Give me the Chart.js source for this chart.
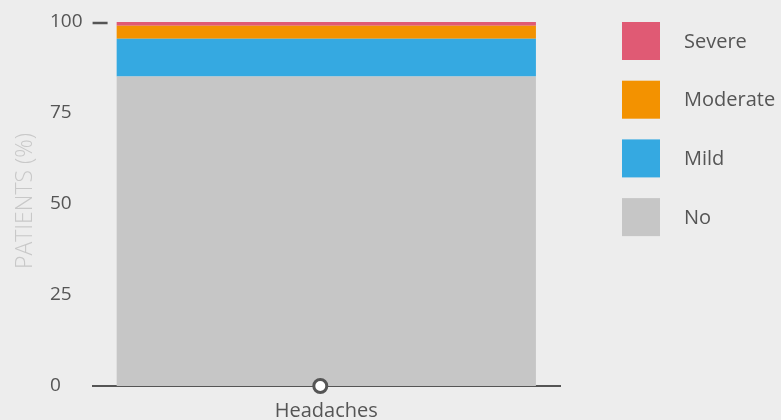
<!DOCTYPE html>
<html>
<head>
<meta charset="utf-8">
<script src="https://cdn.jsdelivr.net/npm/chart.js@4"></script>
<style>
  html, body { margin: 0; padding: 0; background: #ededed; }
  #wrap { width: 781px; height: 420px; position: relative; }
</style>
</head>
<body>
<div id="wrap"><canvas id="c" width="781" height="420"></canvas></div>
<script>
const categories = ['Headaches'];
const seriesNames = ['No', 'Mild', 'Moderate', 'Severe'];
const noValues = [85.0];
const mildValues = [10.4];
const moderateValues = [3.6];
const severeValues = [1.0];
const yTicks = [0, 25, 50, 75, 100];
const yTitle = 'PATIENTS (%)';
const colors = ['#c6c6c6', '#35a9e1', '#f39200', '#e05a74'];

const FONT = '"Open Sans", sans-serif';
const TEXT = '#555555';

const decorPlugin = {
  id: 'decor',
  afterDraw(chart) {
    const ctx = chart.ctx;
    const xs = chart.scales.x, ys = chart.scales.y, ca = chart.chartArea;
    ctx.save();
    // y axis title
    ctx.save();
    ctx.translate(25, (ys.top + ys.bottom) / 2 - 3);
    ctx.rotate(-Math.PI / 2);
    ctx.font = '300 23px ' + FONT;
    ctx.fillStyle = '#c8c8c8';
    ctx.textAlign = 'center';
    ctx.textBaseline = 'middle';
    ctx.fillText(yTitle, 0, 0);
    ctx.restore();
    // category labels
    ctx.font = '20px ' + FONT;
    ctx.fillStyle = TEXT;
    ctx.textAlign = 'center';
    ctx.textBaseline = 'middle';
    chart.data.labels.forEach((lab, i) => {
      ctx.fillText(lab, xs.getPixelForValue(i), ca.bottom + 25);
    });
    // top tick dash at 100
    const y100 = ys.getPixelForValue(100);
    ctx.strokeStyle = TEXT; ctx.lineWidth = 2.5;
    ctx.beginPath(); ctx.moveTo(ca.left, y100 + 1); ctx.lineTo(ca.left + 15, y100 + 1); ctx.stroke();
    // circle marker on axis
    const cx = xs.getPixelForValue(0) - 6, cy = ys.getPixelForValue(0);
    ctx.beginPath(); ctx.arc(cx, cy, 6.5, 0, Math.PI * 2);
    ctx.fillStyle = '#ffffff'; ctx.fill();
    ctx.lineWidth = 3; ctx.strokeStyle = TEXT; ctx.stroke();
    // legend (top series first)
    const ds = chart.data.datasets.slice().reverse();
    ctx.font = '20px ' + FONT;
    ctx.textAlign = 'left';
    ctx.textBaseline = 'middle';
    ds.forEach((d, i) => {
      const top = 22 + i * 58.7;
      ctx.fillStyle = d.backgroundColor;
      ctx.fillRect(622, top, 38, 38);
      ctx.fillStyle = TEXT;
      ctx.fillText(d.label, 684, top + 20);
    });
    ctx.restore();
  }
};

new Chart(document.getElementById('c'), {
  type: 'bar',
  data: {
    labels: categories,
    datasets: [
      { label: seriesNames[0], data: noValues, backgroundColor: colors[0] },
      { label: seriesNames[1], data: mildValues, backgroundColor: colors[1] },
      { label: seriesNames[2], data: moderateValues, backgroundColor: colors[2] },
      { label: seriesNames[3], data: severeValues, backgroundColor: colors[3] }
    ]
  },
  options: {
    responsive: false,
    animation: false,
    devicePixelRatio: 1,
    layout: { padding: { top: 22, right: 221, left: 50, bottom: 34 } },
    datasets: { bar: { barPercentage: 1, categoryPercentage: 0.897, borderWidth: 0 } },
    plugins: { legend: { display: false }, tooltip: { enabled: false } },
    scales: {
      x: {
        stacked: true,
        grid: { display: false, drawTicks: false },
        border: { display: true, color: TEXT, width: 2 },
        ticks: { display: false }
      },
      y: {
        stacked: true,
        min: 0, max: 100,
        afterBuildTicks(scale) { scale.ticks = yTicks.map(v => ({ value: v })); },
        grid: { display: false, drawTicks: false },
        border: { display: false },
        ticks: { color: TEXT, font: { family: FONT, size: 19 }, padding: 5, crossAlign: 'far' }
      }
    }
  },
  plugins: [decorPlugin]
});
</script>
</body>
</html>
